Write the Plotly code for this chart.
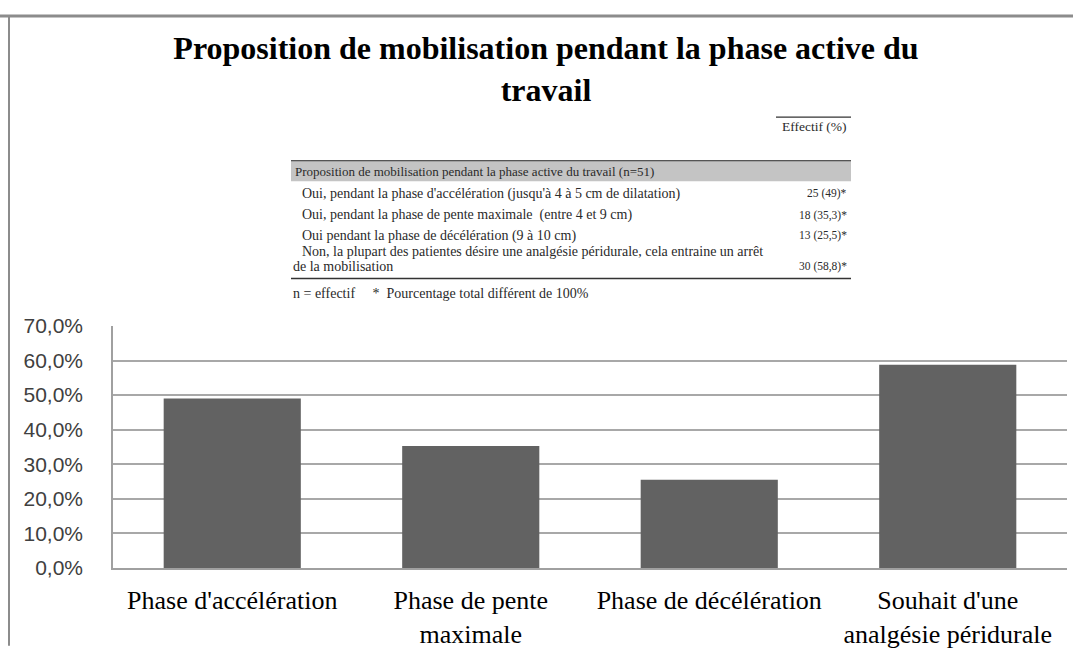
import plotly.graph_objects as go

# ---- data ----
categories = ["Phase d'accélération", "Phase de pente<br>maximale",
              "Phase de décélération", "Souhait d'une<br>analgésie péridurale"]
values = [49.0, 35.3, 25.5, 58.8]
y_tickvals = [0, 10, 20, 30, 40, 50, 60, 70]
y_ticktext = ["0,0%", "10,0%", "20,0%", "30,0%", "40,0%", "50,0%", "60,0%", "70,0%"]

table_header = "Proposition de mobilisation pendant la phase active du travail (n=51)"
table_rows = ["Oui, pendant la phase d'accélération (jusqu'à 4 à 5 cm de dilatation)",
              "Oui, pendant la phase de pente maximale  (entre 4 et 9 cm)",
              "Oui pendant la phase de décélération (9 à 10 cm)",
              "Non, la plupart des patientes désire une analgésie péridurale, cela entraine un arrêt"]
table_row_cont = "de la mobilisation"
table_values = ["25 (49)*", "18 (35,3)*", "13 (25,5)*", "30 (58,8)*"]
table_col_head = "Effectif (%)"
table_note = "n = effectif     *  Pourcentage total différent de 100%"

W, H = 1073, 655
L, R, T, B = 113, 1067, 326, 575


def px(x):
    return (x - L) / (R - L)


def py(y):
    return (B - y) / (B - T)


fig = go.Figure(go.Bar(x=categories, y=values, marker=dict(color="#626262", line=dict(width=0)),
                       hoverinfo="skip"))

serif = "Liberation Serif"
tcol = "#2a2a2a"
TS = 14
VS = 11.5
ann = []
ann.append(dict(text=table_col_head, x=px(849), y=py(121), xanchor="right", yanchor="middle",
                font=dict(family=serif, size=13.5, color=tcol)))
ann.append(dict(text=table_header, x=px(293), y=py(167), xanchor="left", yanchor="middle",
                font=dict(family=serif, size=13, color=tcol)))
row_y = [190, 212, 233, 249]
for i, txt in enumerate(table_rows):
    ann.append(dict(text=txt, x=px(300), y=py(row_y[i]), xanchor="left", yanchor="middle",
                    font=dict(family=serif, size=TS, color=tcol)))
ann.append(dict(text=table_row_cont, x=px(291), y=py(265), xanchor="left", yanchor="middle",
                font=dict(family=serif, size=TS, color=tcol)))
val_y = [190, 212, 233, 265]
for i, txt in enumerate(table_values):
    ann.append(dict(text=txt, x=px(849), y=py(val_y[i]), xanchor="right", yanchor="middle",
                    font=dict(family=serif, size=VS, color=tcol)))
ann.append(dict(text=table_note, x=px(291), y=py(293), xanchor="left", yanchor="middle",
                font=dict(family=serif, size=14, color=tcol)))
for a in ann:
    a.update(xref="paper", yref="paper", showarrow=False)

shapes = [
    # outer frame (top and left)
    dict(type="line", x0=px(0), x1=px(W), y0=py(7), y1=py(7), line=dict(color="#8c8c8c", width=3)),
    dict(type="line", x0=px(9), x1=px(9), y0=py(7), y1=py(H), line=dict(color="#8c8c8c", width=2)),
    # table
    dict(type="rect", x0=px(291), x1=px(851), y0=py(177), y1=py(157), fillcolor="#c4c4c4",
         line=dict(width=0), layer="below"),
    dict(type="line", x0=px(291), x1=px(851), y0=py(156), y1=py(156), line=dict(color="#555555", width=1.5)),
    dict(type="line", x0=px(291), x1=px(851), y0=py(277), y1=py(277), line=dict(color="#333333", width=1.5)),
    dict(type="line", x0=px(776), x1=px(851), y0=py(111), y1=py(111), line=dict(color="#333333", width=1.2)),
]
for s in shapes:
    s.update(xref="paper", yref="paper")

fig.update_layout(
    width=W, height=H,
    margin=dict(l=L, r=W - R, t=T, b=H - B, pad=0),
    paper_bgcolor="white", plot_bgcolor="white",
    bargap=0.425,
    showlegend=False,
    title=dict(text="<b>Proposition de mobilisation pendant la phase active du<br>travail</b>",
               x=546 / W, xanchor="center", xref="container",
               y=1 - 59 / H, yanchor="middle", yref="container",
               font=dict(family=serif, size=32, color="black")),
    annotations=ann,
    shapes=shapes,
    xaxis=dict(showline=True, linecolor="#a0a0a0", linewidth=1.5, showgrid=False,
               tickfont=dict(family=serif, size=26, color="black"), ticks="", ticklabelstandoff=8,
               fixedrange=True),
    yaxis=dict(range=[0, 70], tickvals=y_tickvals, ticktext=y_ticktext,
               showline=True, linecolor="#a0a0a0", linewidth=1.5,
               showgrid=True, gridcolor="#a8a8a8", gridwidth=1.5, zeroline=False,
               tickfont=dict(family="Liberation Sans", size=21, color="#404040"),
               ticks="", ticklabelstandoff=24, fixedrange=True),
)

fig.write_html("out.html", config={"displayModeBar": False},
               post_script="document.body.style.margin='0';document.body.style.padding='0';")
